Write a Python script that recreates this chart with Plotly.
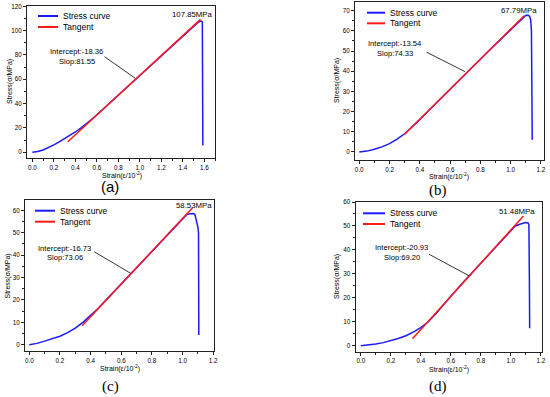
import plotly.graph_objects as go

# ---------------- data ----------------
strain_a = [0, 0.05, 0.1, 0.15, 0.2, 0.25, 0.3, 0.35, 0.4, 0.45, 0.5, 0.55, 0.6, 0.7, 0.8, 0.9, 1.0,
            1.1, 1.2, 1.3, 1.4, 1.5, 1.54, 1.56, 1.575, 1.582, 1.585, 1.587]
stress_a = [0, 0.5, 1.8, 3.7, 6.0, 8.4, 11.0, 13.7, 16.6, 19.8, 23.2, 26.9, 30.8, 38.9, 47.0, 55.1, 63.2,
            71.4, 79.5, 87.6, 95.8, 103.8, 106.6, 107.7, 107.85, 107.0, 40.0, 5.5]
tan_a_x = [0.33, 1.565]
tan_a_y = [8.55, 109.3]

strain_b = [0, 0.05, 0.1, 0.15, 0.2, 0.25, 0.3, 0.35, 0.4, 0.45, 0.5, 0.6, 0.7, 0.8, 0.9, 1.0,
            1.05, 1.08, 1.1, 1.115, 1.125, 1.133, 1.138, 1.141, 1.143]
stress_b = [0, 0.4, 1.3, 2.5, 4.1, 6.3, 9.0, 12.3, 16.0, 19.8, 23.6, 31.0, 38.5, 45.9, 53.3, 60.7,
            64.3, 66.4, 67.6, 67.79, 67.3, 65.5, 60.0, 30.0, 6.0]
tan_b_x = [0.30, 1.09]
tan_b_y = [8.76, 67.5]

strain_c = [0, 0.05, 0.1, 0.15, 0.2, 0.25, 0.3, 0.35, 0.4, 0.45, 0.5, 0.6, 0.7, 0.8, 0.9, 1.0,
            1.03, 1.05, 1.07, 1.08, 1.09, 1.1, 1.104, 1.106]
stress_c = [0, 0.6, 1.6, 2.6, 3.8, 5.4, 7.4, 10.0, 13.0, 16.3, 19.9, 27.2, 34.4, 41.7, 49.0, 56.3,
            58.2, 58.5, 58.53, 58.2, 55.5, 52.5, 50.0, 4.3]
tan_c_x = [0.345, 1.065]
tan_c_y = [8.5, 61.1]

strain_d = [0, 0.05, 0.1, 0.15, 0.2, 0.25, 0.3, 0.35, 0.4, 0.45, 0.5, 0.55, 0.6, 0.7, 0.8, 0.9, 1.0,
            1.03, 1.06, 1.08, 1.1, 1.115, 1.121, 1.124, 1.126]
stress_d = [0, 0.3, 0.7, 1.3, 2.1, 3.0, 4.2, 5.7, 7.6, 10.0, 13.2, 17.1, 20.7, 27.6, 34.5, 41.4, 48.3,
            50.0, 50.7, 51.0, 51.48, 51.3, 50.5, 30.0, 7.3]
tan_d_x = [0.345, 1.085]
tan_d_y = [2.95, 54.15]

peak_labels = ["107.85MPa", "67.79MPa", "58.53MPa", "51.48MPa"]
intercepts = ["-18.36", "-13.54", "-16.73", "-20.93"]
slopes = ["81.55", "74.33", "73.06", "69.20"]
captions = ["(a)", "(b)", "(c)", "(d)"]
x_title = "Strain(ε/10<sup>-2</sup>)"
y_title = "Stress(σ/MPa)"

# ---------------- layout helpers ----------------
W, H = 550, 397

def px(x):
    return x / W

def py(y):
    return 1 - y / H

panels = [
    dict(strain=strain_a, stress=stress_a, tx=tan_a_x, ty=tan_a_y,
         frame=(27, 215, 6, 158), xr=[-0.05, 1.70], yr=[-4.8, 120.3], ydt=20,
         peak=(1.493, 112.9), txt=(0.414, 82.7, 75.0), arrow=(0.671, 78.6, 0.956, 60.9),
         leg=(38, 58, 16, 27, 61), cap=(110, 186), capfont="Liberation Sans",
         xt=(122, 175), yt=(10, 82)),
    dict(strain=strain_b, stress=stress_b, tx=tan_b_x, ty=tan_b_y,
         frame=(355, 544, 2, 160), xr=[-0.028, 1.221], yr=[-4.0, 74.3], ydt=10,
         peak=(1.058, 70.0), txt=(0.236, 53.8, 48.9), arrow=(0.446, 49.4, 0.699, 39.8),
         leg=(367, 385, 12.7, 23.3, 388), cap=(438, 190), capfont="Liberation Serif",
         xt=(449, 176.5), yt=(337, 81)),
    dict(strain=strain_c, stress=stress_c, tx=tan_c_x, ty=tan_c_y,
         frame=(25, 214, 200, 351), xr=[-0.028, 1.205], yr=[-2.8, 64.6], ydt=10,
         peak=(1.074, 62.1), txt=(0.231, 43.0, 38.8), arrow=(0.424, 41.5, 0.661, 31.9),
         leg=(35, 55, 210.7, 221.7, 58), cap=(110, 386), capfont="Liberation Serif",
         xt=(119.5, 368.5), yt=(7.5, 276)),
    dict(strain=strain_d, stress=stress_d, tx=tan_d_x, ty=tan_d_y,
         frame=(355.5, 541.5, 202, 351.5), xr=[-0.035, 1.205], yr=[-2.4, 60.0], ydt=10,
         peak=(1.044, 56.1), txt=(0.273, 41.0, 36.8), arrow=(0.455, 38.2, 0.722, 29.2),
         leg=(363, 385, 213.3, 224, 388), cap=(438, 386), capfont="Liberation Serif",
         xt=(448.5, 369), yt=(337, 277)),
]

FONT = "Liberation Sans, Arial, sans-serif"
BLUE = "#1a1aff"
RED = "#ff1a1a"

fig = go.Figure()
layout = dict(
    width=W, height=H,
    margin=dict(l=0, r=0, t=0, b=0),
    paper_bgcolor="white", plot_bgcolor="white",
    showlegend=False,
    font=dict(family=FONT, color="black"),
)
annotations = []
shapes = []

for i, p in enumerate(panels):
    n = "" if i == 0 else str(i + 1)
    xa, ya = "x" + n, "y" + n
    l, r, t, b = p["frame"]
    fig.add_trace(go.Scatter(x=p["strain"], y=p["stress"], mode="lines", name="Stress curve",
                             line=dict(color=BLUE, width=1.5), xaxis=xa, yaxis=ya))
    fig.add_trace(go.Scatter(x=p["tx"], y=p["ty"], mode="lines", name="Tangent",
                             line=dict(color=RED, width=1.5), xaxis=xa, yaxis=ya))
    common = dict(showgrid=False, zeroline=False, showline=True, linecolor="#222", linewidth=1,
                  mirror=True, ticks="outside", ticklen=3, tickwidth=1, tickcolor="#222",
                  tickfont=dict(size=6.3, family=FONT, color="black"), automargin=False)
    layout["xaxis" + n] = dict(
        common, domain=[px(l), px(r)], range=p["xr"], anchor=ya,
        tick0=0, dtick=0.2, tickformat=".1f",
        minor=dict(ticks="outside", ticklen=2, dtick=0.1, tickcolor="#222"),
    )
    layout["yaxis" + n] = dict(
        common, domain=[py(b), py(t)], range=p["yr"], anchor=xa,
        tick0=0, dtick=p["ydt"],
        minor=dict(ticks="outside", ticklen=2, dtick=p["ydt"] / 2, tickcolor="#222"),
    )
    annotations.append(dict(x=px(p["xt"][0]), y=py(p["xt"][1]), xref="paper", yref="paper",
                            text=x_title, showarrow=False, xanchor="center", yanchor="middle",
                            font=dict(size=7, family=FONT)))
    annotations.append(dict(x=px(p["yt"][0]), y=py(p["yt"][1]), xref="paper", yref="paper",
                            text=y_title, showarrow=False, xanchor="center", yanchor="middle",
                            textangle=-90, font=dict(size=7, family=FONT)))
    annotations.append(dict(x=p["peak"][0], y=p["peak"][1], xref=xa, yref=ya, text=peak_labels[i],
                            showarrow=False, font=dict(size=7.8, family=FONT)))
    annotations.append(dict(x=p["txt"][0], y=p["txt"][1], xref=xa, yref=ya,
                            text="Intercept:" + intercepts[i], showarrow=False,
                            font=dict(size=7.6, family=FONT)))
    annotations.append(dict(x=p["txt"][0], y=p["txt"][2], xref=xa, yref=ya,
                            text="Slop:" + slopes[i], showarrow=False,
                            font=dict(size=7.6, family=FONT)))
    ax0, ay0, ax1, ay1 = p["arrow"]
    shapes.append(dict(type="line", xref=xa, yref=ya, x0=ax0, y0=ay0, x1=ax1, y1=ay1,
                       line=dict(color="black", width=0.8)))
    lx0, lx1, ly1, ly2, ltx = p["leg"]
    for yy, col, name in [(ly1, BLUE, "Stress curve"), (ly2, RED, "Tangent")]:
        shapes.append(dict(type="line", xref="paper", yref="paper", x0=px(lx0), x1=px(lx1),
                           y0=py(yy), y1=py(yy), line=dict(color=col, width=2)))
        annotations.append(dict(x=px(ltx), y=py(yy), xref="paper", yref="paper", text=name,
                                xanchor="left", yanchor="middle", showarrow=False,
                                font=dict(size=8.5, family=FONT)))
    annotations.append(dict(x=px(p["cap"][0]), y=py(p["cap"][1]), xref="paper", yref="paper",
                            text=captions[i], showarrow=False, xanchor="center", yanchor="middle",
                            font=dict(size=15, family=p["capfont"], color="black")))

layout["annotations"] = annotations
layout["shapes"] = shapes
fig.update_layout(**layout)
fig.write_html("out.html", config={"displayModeBar": False},
               post_script="document.body.style.margin='0';document.body.style.overflow='hidden';")
